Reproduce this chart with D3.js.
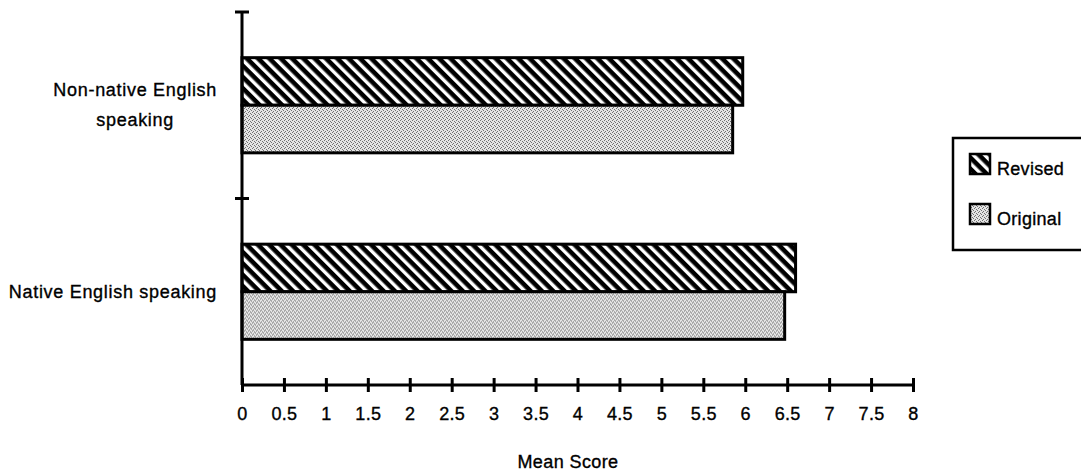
<!DOCTYPE html>
<html>
<head>
<meta charset="utf-8">
<script src="https://cdn.jsdelivr.net/npm/d3@7"></script>
<style>
  body { margin: 0; background: #fff; }
  svg { display: block; font-family: "Liberation Sans", Arial, Helvetica, sans-serif; }
  text { fill: #000; stroke: #000; stroke-width: 0.35px; }
</style>
</head>
<body>
<div id="chart"></div>
<script>
// data
const categories = ["Non-native English speaking", "Native English speaking"];
const categoryLines = [["Non-native English", "speaking"], ["Native English speaking"]];
const series = ["Revised", "Original"];
const revised = [5.97, 6.60];
const original = [5.85, 6.47];
const xTicks = [0, 0.5, 1, 1.5, 2, 2.5, 3, 3.5, 4, 4.5, 5, 5.5, 6, 6.5, 7, 7.5, 8];
const xTickLabels = ["0", "0.5", "1", "1.5", "2", "2.5", "3", "3.5", "4", "4.5", "5", "5.5", "6", "6.5", "7", "7.5", "8"];
const xTitle = "Mean Score";

const width = 1081, height = 472;
const svg = d3.select("#chart").append("svg")
    .attr("width", width)
    .attr("height", height);

const defs = svg.append("defs");

// diagonal hatch for "Revised"
const hatch = defs.append("pattern")
    .attr("id", "hatch")
    .attr("patternUnits", "userSpaceOnUse")
    .attr("width", 8)
    .attr("height", 8)
    .attr("patternTransform", "rotate(-45)");
hatch.append("rect").attr("width", 8).attr("height", 8).attr("fill", "#000");
hatch.append("rect").attr("x", 0).attr("width", 3.4).attr("height", 8).attr("fill", "#fff");

// light stipple for "Original"
const stip = defs.append("pattern")
    .attr("id", "stipple")
    .attr("patternUnits", "userSpaceOnUse")
    .attr("width", 4)
    .attr("height", 4);
stip.append("rect").attr("width", 4).attr("height", 4).attr("fill", "#e4e4e4");
[[0, 0], [2, 1], [1, 3], [3, 2]].forEach(p => {
    stip.append("rect").attr("x", p[0]).attr("y", p[1])
        .attr("width", 1).attr("height", 1).attr("fill", "#707070");
});

const fills = { Revised: "url(#hatch)", Original: "url(#stipple)" };
const values = { Revised: revised, Original: original };

const x = d3.scaleLinear().domain([0, 8]).range([242, 913]);
const y = d3.scaleBand().domain(categories).range([12, 385]);
const sub = d3.scaleBand().domain(series).range([0, y.bandwidth()]).paddingOuter(0.96);

// bars
const groups = svg.selectAll(".cat")
    .data(categories)
    .join("g")
    .attr("class", "cat")
    .attr("transform", d => `translate(0,${y(d)})`);

groups.selectAll("rect")
    .data((d, i) => series.map(s => ({ s, v: values[s][i] })))
    .join("rect")
    .attr("x", x(0))
    .attr("y", d => sub(d.s))
    .attr("width", d => x(d.v) - x(0))
    .attr("height", sub.bandwidth())
    .attr("fill", d => fills[d.s])
    .attr("stroke", "#000")
    .attr("stroke-width", 3);

// x axis
const xAxis = svg.append("g")
    .attr("transform", `translate(0,${y.range()[1]})`)
    .call(d3.axisBottom(x)
        .tickValues(xTicks)
        .tickFormat((d, i) => xTickLabels[i])
        .tickSize(7)
        .tickPadding(15));
xAxis.select(".domain").attr("stroke", "#000").attr("stroke-width", 3)
    .attr("d", `M${x(0)},0H${x(8)}`);
xAxis.selectAll(".tick line").attr("y1", -7).attr("y2", 7).attr("stroke-width", 3);
xAxis.selectAll(".tick text")
    .attr("font-size", 18)
    .attr("font-family", "Liberation Sans, Arial, sans-serif")
    .attr("letter-spacing", "0.3px");

svg.append("text")
    .attr("x", 568)
    .attr("y", 468)
    .attr("text-anchor", "middle")
    .attr("font-size", 18)
    .attr("letter-spacing", "0.4px")
    .text(xTitle);

// y axis with ticks at band boundaries
const yAxis = svg.append("g");
yAxis.append("line")
    .attr("x1", x(0)).attr("x2", x(0))
    .attr("y1", y.range()[0]).attr("y2", y.range()[1])
    .attr("stroke", "#000").attr("stroke-width", 3);
yAxis.selectAll(".ytick")
    .data(categories)
    .join("line")
    .attr("class", "ytick")
    .attr("x1", x(0) - 7).attr("x2", x(0) + 7)
    .attr("y1", d => y(d)).attr("y2", d => y(d))
    .attr("stroke", "#000").attr("stroke-width", 3);

// category labels: block right-aligned, lines centred
const labelRight = 217;
categories.forEach((c, i) => {
    const lines = categoryLines[i];
    const g = svg.append("g");
    const lineH = 30;
    const cy = y(c) + y.bandwidth() / 2;
    const texts = g.selectAll("text")
        .data(lines)
        .join("text")
        .attr("font-size", 18)
        .attr("letter-spacing", "0.7px")
        .attr("text-anchor", "middle")
        .attr("y", (d, j) => cy + (j - (lines.length - 1) / 2) * lineH + 6)
        .text(d => d);
    const maxW = d3.max(texts.nodes(), n => n.getComputedTextLength());
    texts.attr("x", labelRight - maxW / 2);
});

// legend
const legend = svg.append("g").attr("transform", "translate(953,138)");
legend.append("rect")
    .attr("width", 150).attr("height", 112)
    .attr("fill", "#fff").attr("stroke", "#000").attr("stroke-width", 2.5);
const items = legend.selectAll(".item")
    .data(series)
    .join("g")
    .attr("class", "item")
    .attr("transform", (d, i) => `translate(17,${16 + i * 50})`);
items.append("rect")
    .attr("width", 20).attr("height", 20)
    .attr("fill", d => fills[d])
    .attr("stroke", "#000").attr("stroke-width", 2.5);
items.append("text")
    .attr("x", 27).attr("y", 21)
    .attr("font-size", 18)
    .attr("letter-spacing", "0.3px")
    .text(d => d);
</script>
</body>
</html>
